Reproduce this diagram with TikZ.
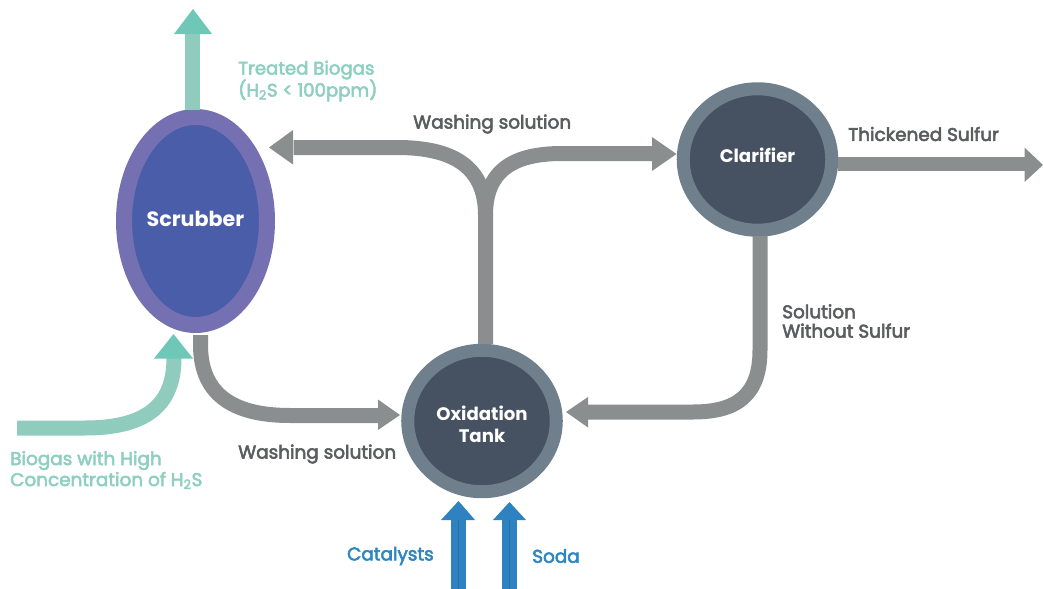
\documentclass[tikz,border=0pt]{standalone}
\usepackage{fontspec}
\setmainfont{Poppins}
\newfontfamily\lblfont[FakeBold=3]{Poppins}
\usetikzlibrary{shapes.geometric}
\definecolor{flowgray}{HTML}{8B8E8F}
\definecolor{txtgray}{HTML}{5A5C5E}
\definecolor{scrubring}{HTML}{7470B2}
\definecolor{scrubcore}{HTML}{4A5DA9}
\definecolor{tankring}{HTML}{6F7F8C}
\definecolor{tankcore}{HTML}{465262}
\definecolor{tealshaft}{HTML}{90CCBE}
\definecolor{tealhead}{HTML}{6EC7B7}
\definecolor{tealtxt}{HTML}{8ECFC0}
\definecolor{bluearr}{HTML}{2F82C0}
\definecolor{bluemid}{HTML}{2270B0}
\definecolor{bluetxt}{HTML}{2E86C1}
\begin{document}
\begin{tikzpicture}[x=0.75pt,y=-0.75pt,
  vessel/.style={ellipse, inner sep=0pt},
  vtext/.style={text=white, align=center, inner sep=0pt,
    font=\bfseries\fontsize{13.6}{16.5}\selectfont},
  shaft/.style={line width=11.25pt, line cap=butt},
  grayshaft/.style={shaft, draw=flowgray},
  lbl/.style={font=\lblfont\fontsize{13.8}{15}\selectfont, text=txtgray, align=left, inner sep=0pt},
  teallbl/.style={lbl, text=tealtxt},
  bluelbl/.style={lbl, text=bluetxt},
]
\useasboundingbox (0,0) rectangle (1043,589);

% vessels
\node[vessel, draw=scrubring, fill=scrubcore, line width=12pt,
  minimum width=107.25pt, minimum height=156pt,
  label={[vtext, font=\bfseries\fontsize{15.5}{18}\selectfont, yshift=1.2pt]center:Scrubber}] (scrub) at (195.5,221) {};
\node[vessel, draw=tankring, fill=tankcore, line width=9.75pt,
  minimum width=111.4pt, minimum height=106.1pt,
  label={[vtext, yshift=-2.2pt]center:Oxidation\\Tank}] (tank) at (482,421) {};
\node[vessel, draw=tankring, fill=tankcore, line width=9.75pt,
  minimum width=111.4pt, minimum height=106.1pt,
  label={[vtext, yshift=3.4pt]center:Clarifier}] (clar) at (757.5,159.5) {};

% named free ends
\coordinate (gasout) at (192.5,34);
\coordinate (gasin) at (17,428);
\coordinate (gasinend) at (174,358);
\coordinate (sulfout) at (1025,164);
\coordinate (catin) at (458.5,589);
\coordinate (sodain) at (509.5,589);

% treated biogas out
\draw[shaft, draw=tealshaft] (192.5,110) -- (gasout);
\fill[tealhead] (174,34) -- (193,9) -- (212,34) -- cycle;

% biogas in
\draw[shaft, draw=tealshaft] (gasin) -- (85,428) .. controls (150,428) and (174,402) .. (gasinend);
\fill[tealhead] (154,358.5) -- (173.5,334) -- (193,358.5) -- cycle;

% scrubber -> tank
\draw[grayshaft] (200.5,335) -- (200.5,345) .. controls (200.5,398) and (238,415.5) .. (290,415.5) -- (378.5,415.5);
\fill[flowgray] (378,399.5) -- (400,415) -- (378,430) -- cycle;

% tank -> split
\draw[grayshaft] (485.5,344) -- (485.5,215) .. controls (485.5,166) and (452,147.5) .. (397,147.5) -- (293.5,147.5);
\draw[grayshaft] (485.5,215) .. controls (485.5,170) and (514,153.5) .. (562,153.5) -- (652.5,153.5);
\fill[flowgray] (293,130) -- (269,147.5) -- (293,164.5) -- cycle;
\fill[flowgray] (652,137) -- (676.5,154) -- (652,171) -- cycle;

% clarifier -> tank
\draw[grayshaft] (760,236) -- (760,350) .. controls (760,395) and (737,412) .. (693,412) -- (587.5,412);
\fill[flowgray] (588,397) -- (566,412) -- (588,427.5) -- cycle;

% thickened sulfur
\draw[grayshaft, line width=10.5pt] (838,164) -- (sulfout);
\fill[flowgray] (1024.5,147.5) -- (1043,165) -- (1024.5,182) -- cycle;

% catalysts & soda
\draw[shaft, draw=bluearr] (catin) -- (458.5,519.5);
\draw[shaft, draw=bluearr] (sodain) -- (509.5,519.5);
\draw[bluemid, line width=0.6pt] (458.5,589) -- (458.5,520);
\draw[bluemid, line width=0.6pt] (509.5,589) -- (509.5,520);
\fill[bluearr] (441,520) -- (458.5,501) -- (475,520) -- cycle;
\fill[bluearr] (493,520) -- (509.5,502) -- (526,520) -- cycle;

% labels
\node[teallbl, anchor=west, font=\lblfont\fontsize{13.6}{16.5}\selectfont] (tlbl) at (238,81) {Treated Biogas\\(H\textsubscript{2}S < 100ppm)};
\node[teallbl, anchor=west, font=\lblfont\fontsize{13.8}{15.75}\selectfont] (blbl) at (10,470) {Biogas with High\\Concentration of H\textsubscript{2}S};
\node[lbl, anchor=west] (wlbl1) at (238,454) {Washing solution};
\node[lbl, anchor=west] (wlbl2) at (413,124) {Washing solution};
\node[lbl, anchor=west] (slbl) at (848,134) {Thickened Sulfur};
\node[lbl, anchor=west, font=\lblfont\fontsize{13.8}{14.5}\selectfont] (nlbl) at (782,321) {Solution\\Without Sulfur};
\node[bluelbl, anchor=east] (clbl) at (434,556) {Catalysts};
\node[bluelbl, anchor=west] (dlbl) at (532,556) {Soda};
\end{tikzpicture}
\end{document}
